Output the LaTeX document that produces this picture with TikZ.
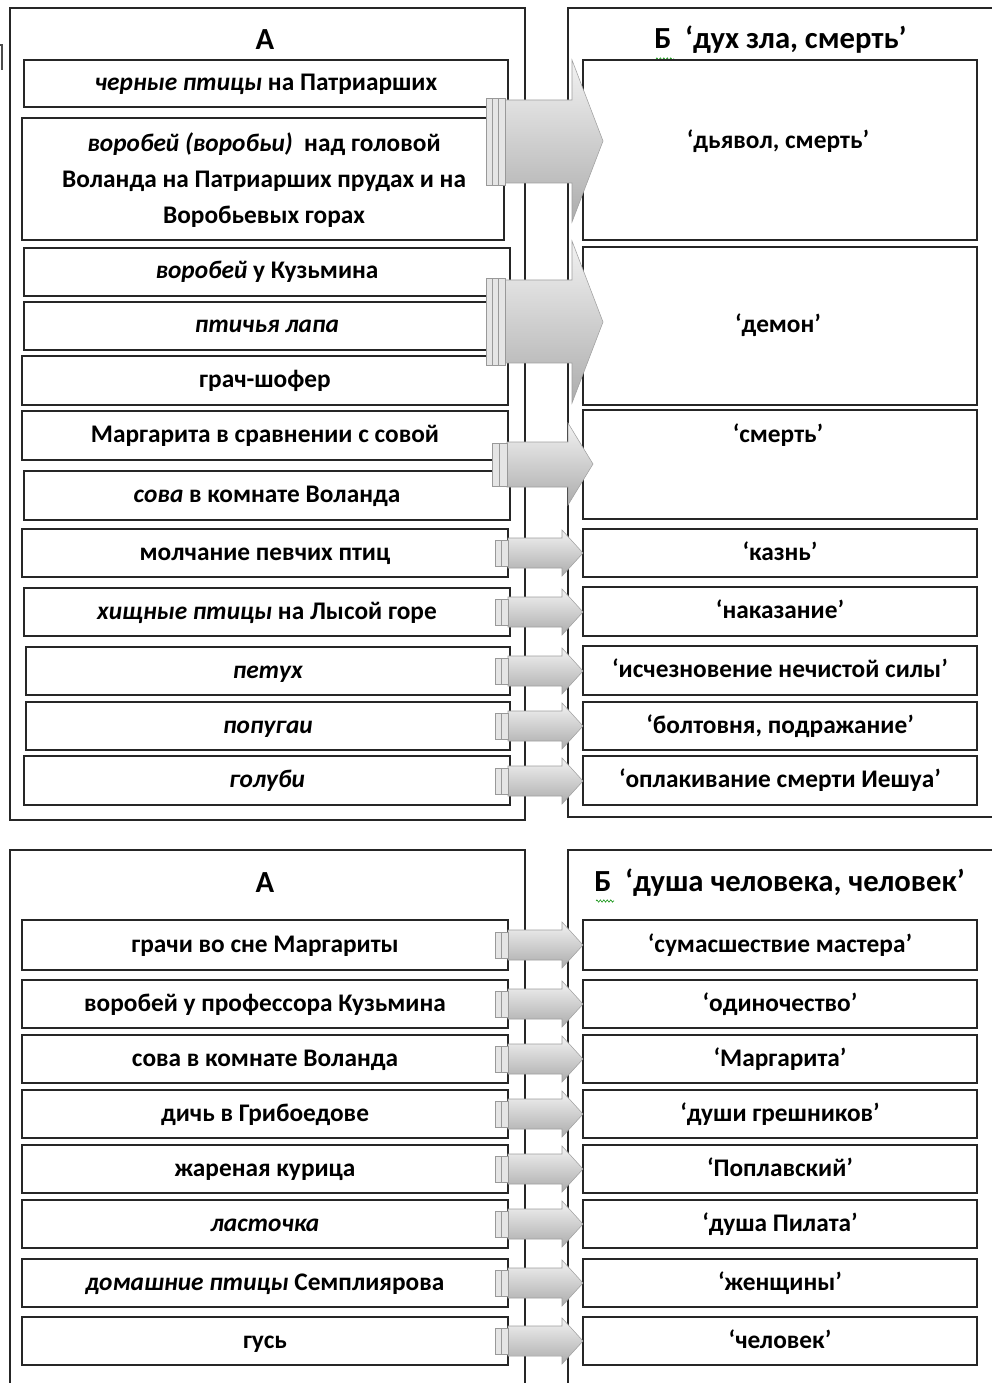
\documentclass[tikz,border=0pt]{standalone}
\usepackage{fontspec}
\setmainfont{Carlito}
\usetikzlibrary{decorations.pathmorphing}
\tikzset{
  frame/.style={draw=black!85, line width=1.6pt},
  box/.style={draw=black!85, line width=1pt, rectangle, inner sep=0pt, align=center,
    font=\bfseries\fontsize{19}{27}\selectfont, text=black, text height=14.5pt, text depth=4pt},
  lbl/.style={font=\bfseries\fontsize{19}{27}\selectfont, align=center, inner sep=0pt,
    text height=14.5pt, text depth=4pt},
  mlbl/.style={font=\bfseries\fontsize{19}{27}\selectfont, align=center, inner sep=0pt},
  ttl/.style={font=\bfseries\fontsize{23}{26}\selectfont, inner sep=0pt},
  arrowbody/.style={draw=gray!75, line width=0.4pt, top color=gray!10, bottom color=gray!65},
  strip/.style={draw=gray!80, line width=0.5pt, fill=gray!20},
  squiggle/.style={draw=green!55!black, line width=0.4pt, decorate,
    decoration={zigzag, amplitude=0.9pt, segment length=2.6pt}}
}
\newcommand\bx[6]{\node[box, minimum width={(#4-#2)*0.75pt}, minimum height={(#5-#3)*0.75pt}] (#1) at ({(#2+#4)/2},{(#3+#5)/2}) {#6};}
% small arrow: y center
\newcommand\sarr[1]{%
  \path[arrowbody] (508,#1-15) -- (562,#1-15) -- (562,#1-23) -- (583,#1) -- (562,#1+23) -- (562,#1+15) -- (508,#1+15) -- cycle;
  \path[strip] (495,#1-13) rectangle (501,#1+13);
  \path[strip] (501,#1-13) rectangle (508,#1+13);}
\begin{document}
\begin{tikzpicture}[x=0.75pt,y=-0.75pt]
\useasboundingbox (0,0) rectangle (991,1383);
\fill[white] (0,0) rectangle (991,1383);
% fragment at top left
\draw[black!70, line width=1pt] (0,45) -- (2,45) -- (2,70);
% ===== top section frames =====
\draw[frame] (10,8) rectangle (525,820);
\draw[frame] (1000,8) -- (568,8) -- (568,817) -- (1000,817);
\node[ttl] (tA) at (265,40) {А};
\node[ttl, anchor=west] (tB) at (654,40) {Б\ \ ‘дух зла, смерть’};
\draw[squiggle] (656,59) -- (674,59);
% left boxes
\bx{l1}{24}{60}{508}{107}{\textit{черные птицы} на Патриарших}
\bx{l2}{22}{118}{504}{240}{}
\node[mlbl] (l2t) at (264,180) {\textit{воробей (воробьи)}\ \ над головой\\Воланда на Патриарших прудах и на\\Воробьевых горах};
\bx{l3}{24}{248}{510}{296}{\textit{воробей} у Кузьмина}
\bx{l4}{24}{302}{510}{350}{\textit{птичья лапа}}
\bx{l5}{22}{356}{508}{405}{грач-шофер}
\bx{l6}{22}{411}{508}{460}{Маргарита в сравнении с совой}
\bx{l7}{24}{471}{510}{520}{\textit{сова} в комнате Воланда}
\bx{l8}{22}{529}{508}{577}{молчание певчих птиц}
\bx{l9}{24}{588}{510}{636}{\textit{хищные птицы} на Лысой горе}
\bx{l10}{26}{647}{510}{695}{\textit{петух}}
\bx{l11}{26}{702}{510}{750}{\textit{попугаи}}
\bx{l12}{24}{756}{510}{805}{\textit{голуби}}
% right boxes
\bx{r1}{583}{60}{977}{240}{}
\node[lbl] (r1t) at (778,142) {‘дьявол, смерть’};
\bx{r2}{583}{247}{977}{405}{}
\node[lbl] (r2t) at (778,326) {‘демон’};
\bx{r3}{583}{410}{977}{519}{}
\node[lbl] (r3t) at (778,435) {‘смерть’};
\bx{r4}{583}{529}{977}{577}{‘казнь’}
\bx{r5}{583}{587}{977}{636}{‘наказание’}
\bx{r6}{583}{646}{977}{695}{‘исчезновение нечистой силы’}
\bx{r7}{583}{702}{977}{750}{‘болтовня, подражание’}
\bx{r8}{583}{756}{977}{805}{‘оплакивание смерти Иешуа’}
% big arrows
\path[arrowbody] (505,100) -- (572,100) -- (572,60) -- (603,141) -- (572,222) -- (572,183) -- (505,183) -- cycle;
\path[strip] (486,98) rectangle (492,185);
\path[strip] (492,98) rectangle (498,185);
\path[strip] (498,98) rectangle (505,185);
\path[arrowbody] (505,280) -- (572,280) -- (572,241) -- (603,322) -- (572,403) -- (572,363) -- (505,363) -- cycle;
\path[strip] (486,278) rectangle (492,365);
\path[strip] (492,278) rectangle (498,365);
\path[strip] (498,278) rectangle (505,365);
\path[arrowbody] (507,442) -- (568,442) -- (568,423) -- (593,464) -- (568,505) -- (568,487) -- (507,487) -- cycle;
\path[strip] (492,443) rectangle (499,486);
\path[strip] (499,443) rectangle (507,486);
% small arrows
\sarr{553}\sarr{612}\sarr{671}\sarr{726}\sarr{781}
% ===== bottom section =====
\draw[frame] (10,1400) -- (10,850) -- (525,850) -- (525,1400);
\draw[frame] (568,1400) -- (568,850) -- (1000,850);
\node[ttl] (bA) at (265,883) {А};
\node[ttl, anchor=west] (bB) at (594,883) {Б\ \ ‘душа человека, человек’};
\draw[squiggle] (596,901) -- (614,901);
\bx{m1}{22}{920}{508}{970}{грачи во сне Маргариты}
\bx{m2}{22}{980}{508}{1028}{воробей у профессора Кузьмина}
\bx{m3}{22}{1035}{508}{1083}{сова в комнате Воланда}
\bx{m4}{22}{1090}{508}{1138}{дичь в Грибоедове}
\bx{m5}{22}{1145}{508}{1193}{жареная курица}
\bx{m6}{22}{1200}{508}{1248}{\textit{ласточка}}
\bx{m7}{22}{1259}{508}{1307}{\textit{домашние птицы} Семплиярова}
\bx{m8}{22}{1317}{508}{1365}{гусь}
\bx{n1}{583}{920}{977}{970}{‘сумасшествие мастера’}
\bx{n2}{583}{980}{977}{1028}{‘одиночество’}
\bx{n3}{583}{1035}{977}{1083}{‘Маргарита’}
\bx{n4}{583}{1090}{977}{1138}{‘души грешников’}
\bx{n5}{583}{1145}{977}{1193}{‘Поплавский’}
\bx{n6}{583}{1200}{977}{1248}{‘душа Пилата’}
\bx{n7}{583}{1259}{977}{1307}{‘женщины’}
\bx{n8}{583}{1317}{977}{1365}{‘человек’}
\sarr{945}\sarr{1004}\sarr{1059}\sarr{1114}\sarr{1169}\sarr{1224}\sarr{1283}\sarr{1341}
\end{tikzpicture}
\end{document}
